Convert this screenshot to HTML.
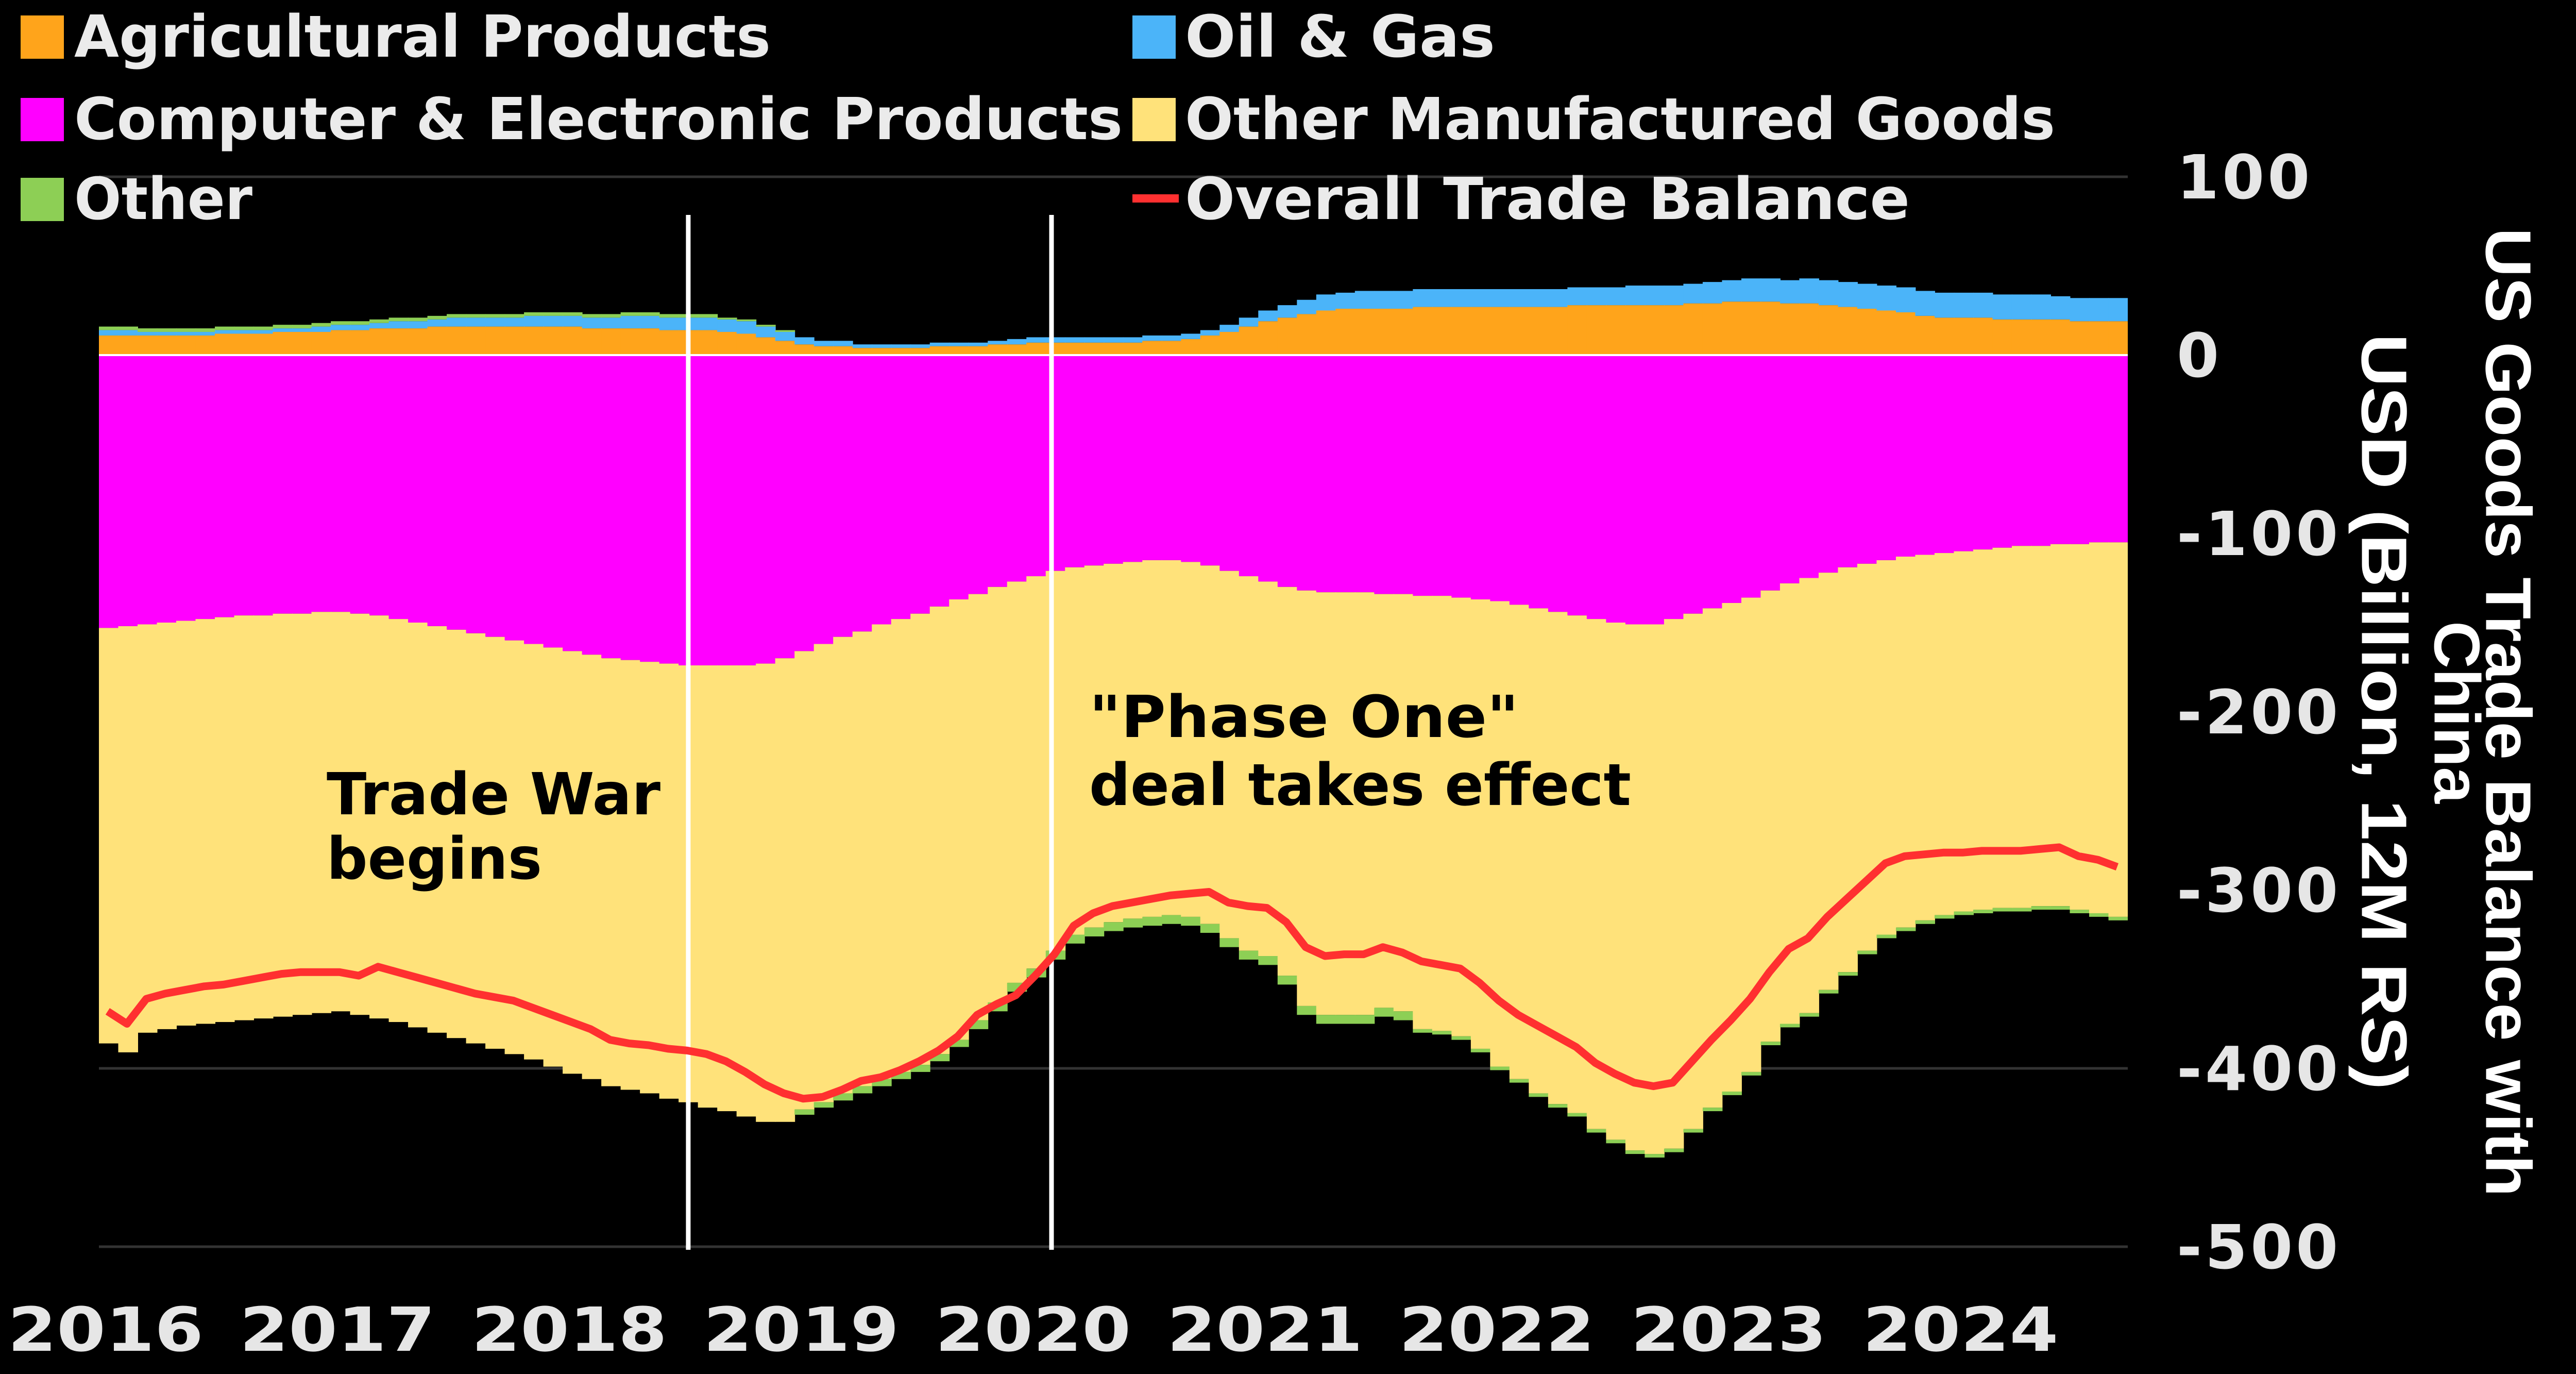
<!DOCTYPE html>
<html><head><meta charset="utf-8"><style>
html,body{margin:0;padding:0;background:#000;}
svg{display:block;}
text{font-family:"DejaVu Sans","Liberation Sans",sans-serif;font-weight:bold;}
</style></head><body>
<svg id="chart" width="5024" height="2666" viewBox="0 0 5024 2666" xmlns="http://www.w3.org/2000/svg">
<rect x="0" y="0" width="5024" height="2666" fill="#000"/>
<g id="grid"></g>
<g id="bars"></g>
<g id="overlay"></g>
<g id="axes"></g>
<g fill="#ebebeb" font-size="112">
  <rect x="40" y="30" width="84" height="84" fill="#ffa41b"/>
  <text x="144" y="110" textLength="1352" lengthAdjust="spacingAndGlyphs">Agricultural Products</text>
  <rect x="40" y="190" width="84" height="84" fill="#ff00ff"/>
  <text x="144" y="270" textLength="2035" lengthAdjust="spacingAndGlyphs">Computer &amp; Electronic Products</text>
  <rect x="40" y="345" width="84" height="84" fill="#8dcf55"/>
  <text x="144" y="425" textLength="346" lengthAdjust="spacingAndGlyphs">Other</text>
  <rect x="2198" y="30" width="84" height="84" fill="#4bb4f9"/>
  <text x="2300" y="110" textLength="602" lengthAdjust="spacingAndGlyphs">Oil &amp; Gas</text>
  <rect x="2198" y="190" width="84" height="84" fill="#ffe27a"/>
  <text x="2300" y="270" textLength="1689" lengthAdjust="spacingAndGlyphs">Other Manufactured Goods</text>
  <line x1="2198" y1="385" x2="2288" y2="385" stroke="#ff3030" stroke-width="16"/>
  <text x="2300" y="425" textLength="1407" lengthAdjust="spacingAndGlyphs">Overall Trade Balance</text>
</g>
<g fill="#000" font-size="112">
  <text x="634" y="1580" textLength="648" lengthAdjust="spacingAndGlyphs">Trade War</text>
  <text x="634" y="1705" textLength="418" lengthAdjust="spacingAndGlyphs">begins</text>
  <text x="2114" y="1430" textLength="834" lengthAdjust="spacingAndGlyphs">"Phase One"</text>
  <text x="2114" y="1562" textLength="1052" lengthAdjust="spacingAndGlyphs">deal takes effect</text>
</g>
<g fill="#fff" font-size="125">
  <text transform="translate(4868,1382) rotate(90)" text-anchor="middle" dominant-baseline="central" textLength="1880" lengthAdjust="spacingAndGlyphs" style="font-family:'Liberation Sans',sans-serif">US Goods Trade Balance with</text>
  <text transform="translate(4768,1382) rotate(90)" text-anchor="middle" dominant-baseline="central" textLength="354" lengthAdjust="spacingAndGlyphs" style="font-family:'Liberation Sans',sans-serif">China</text>
  <text transform="translate(4627,1381) rotate(90)" text-anchor="middle" dominant-baseline="central" textLength="1467" lengthAdjust="spacingAndGlyphs" style="font-family:'Liberation Sans',sans-serif">USD (Billion, 12M RS)</text>
</g>
</svg>
<script>
// ---- data (billions USD, monthly from Jan 2016) ----
const startYear = 2016;
const agri = [11,11,11,11,11,11,12,12,12,13,13,13, 14,14,15,15,15,16,16,16,16,16,16,16, 16,15,15,15,15,14,14,14,13,12,10,8, 6,5,5,4,4,4,4,5,5,5,6,6, 7,7,7,7,7,7,8,8,9,11,13,16, 19,21,23,25,26,26,26,26,27,27,27,27, 27,27,27,27,28,28,28,28,28,28,29,29, 30,30,30,29,29,28,27,26,25,24,22,21, 21,21,20,20,20,20,19,19,19];
const oilGas = [3,3,2,2,2,2,2,2,2,2,2,3, 3,3,3,4,4,4,5,5,5,5,6,6, 6,6,6,7,7,7,7,7,7,7,6,5, 4,3,3,2,2,2,2,2,2,2,2,3, 3,3,3,3,3,3,3,3,3,3,4,5, 6,7,8,9,9,10,10,10,10,10,10,10, 10,10,10,10,10,10,10,11,11,11,11,12, 12,13,13,13,14,14,14,14,14,14,14,14, 14,14,14,14,14,13,13,13,13];
const other = [2,2,2,2,2,2,2,2,2,2,2,2, 2,2,2,2,2,2,2,2,2,2,2,2, 2,2,2,2,2,2,2,2,1,1,1,1, -3,-3,-4,-4,-4,-4,-4,-4,-4,-5,-5,-5, -5,-5,-5,-5,-5,-5,-5,-5,-5,-5,-5,-5, -5,-5,-5,-5,-5,-5,-5,-5,-2,-2,-2,-2, -2,-2,-2,-2,-2,-2,-2,-2,-2,-2,-2,-2, -2,-2,-2,-2,-2,-2,-2,-2,-2,-2,-2,-2, -2,-2,-2,-2,-2,-2,-2,-2,-2];
const computer = [-153,-152,-151,-150,-149,-148,-147,-146,-146,-145,-145,-144, -144,-145,-146,-148,-150,-152,-154,-156,-158,-160,-162,-164, -166,-168,-170,-171,-172,-173,-174,-174,-174,-174,-173,-170, -166,-162,-158,-155,-151,-148,-145,-141,-137,-134,-130,-127, -124,-121,-119,-118,-117,-116,-115,-115,-116,-118,-121,-124, -127,-130,-132,-133,-133,-133,-134,-134,-135,-135,-136,-137, -138,-140,-142,-144,-146,-148,-150,-151,-151,-148,-145,-142, -139,-136,-132,-128,-125,-122,-119,-117,-115,-113,-112,-111, -110,-109,-108,-107,-107,-106,-106,-105,-105];
const otherManufactured = [-233,-239,-229,-228,-227,-227,-227,-227,-226,-226,-225,-225, -224,-225,-226,-226,-227,-228,-229,-230,-231,-232,-233,-235, -237,-238,-240,-241,-242,-244,-245,-248,-250,-253,-257,-260, -257,-257,-256,-255,-255,-254,-253,-251,-247,-239,-233,-225, -220,-213,-206,-203,-201,-200,-200,-199,-199,-201,-206,-210, -210,-218,-233,-237,-237,-237,-232,-234,-243,-244,-246,-252, -261,-266,-272,-276,-279,-286,-290,-295,-297,-297,-289,-280, -274,-266,-253,-247,-244,-234,-227,-217,-210,-208,-205,-203, -202,-202,-202,-203,-202,-203,-205,-208,-210];
const balance = [-368,-375,-361,-358,-356,-354,-353,-351,-349,-347,-346,-346, -346,-348,-343,-346,-349,-352,-355,-358,-360,-362,-366,-370, -374,-378,-384,-386,-387,-389,-390,-392,-396,-402,-409,-414, -417,-416,-412,-407,-405,-401,-396,-390,-382,-370,-364,-359, -348,-336,-320,-313,-309,-307,-305,-303,-302,-301,-307,-309, -310,-318,-332,-337,-336,-336,-332,-335,-340,-342,-344,-352, -362,-370,-376,-382,-388,-397,-403,-408,-410,-408,-396,-384, -373,-361,-346,-333,-327,-315,-305,-295,-285,-281,-280,-279, -279,-278,-278,-278,-277,-276,-281,-283,-287];
const yTicks = [100,0,-100,-200,-300,-400,-500];
const yTickLabels = ["100","0","-100","-200","-300","-400","-500"];
const xTickLabels = ["2016","2017","2018","2019","2020","2021","2022","2023","2024"];
const eventMonths = [30.5, 49.3];

// ---- scales ----
const NS = "http://www.w3.org/2000/svg";
const plotL = 192, plotR = 4130;
const nMonths = agri.length;
const step = (plotR - plotL) / nMonths;
function xAt(i){ return plotL + i * step; }
function yAt(v){ return 689 - v * 3.46; }
function mk(tag, attrs, parent){
  const e = document.createElementNS(NS, tag);
  for (const k in attrs) e.setAttribute(k, attrs[k]);
  parent.appendChild(e);
  return e;
}
const grid = document.getElementById('grid');
const bars = document.getElementById('bars');
const overlay = document.getElementById('overlay');
const axes = document.getElementById('axes');

// gridlines
yTicks.forEach((v) => {
  if (v === 0) return;
  const l = mk('line', {x1: plotL, x2: plotR, y1: yAt(v), y2: yAt(v), stroke: '#333', 'stroke-width': 5}, grid);
  
  
});

// stacked bars
function seg(i, v0, v1, color, name){
  const y0 = yAt(v0), y1 = yAt(v1);
  const w = (i === nMonths - 1) ? step : step + 1;
  const r = mk('rect', {x: xAt(i), width: w, y: Math.min(y0, y1), height: Math.abs(y1 - y0), fill: color}, bars);
  
  
}
for (let i = 0; i < nMonths; i++){
  let p = 0;
  seg(i, p, p + agri[i], '#ffa41b', 'bar-agricultural'); p += agri[i];
  seg(i, p, p + oilGas[i], '#4bb4f9', 'bar-oil-gas'); p += oilGas[i];
  if (other[i] > 0){ seg(i, p, p + other[i], '#8dcf55', 'bar-other'); }
  let n = 0;
  seg(i, n, n + computer[i], '#ff00ff', 'bar-computer'); n += computer[i];
  seg(i, n, n + otherManufactured[i], '#ffe27a', 'bar-other-manufactured'); n += otherManufactured[i];
  if (other[i] < 0){ seg(i, n, n + other[i], '#8dcf55', 'bar-other'); }
}

// zero line
const zl = mk('line', {x1: plotL, x2: plotR, y1: yAt(0), y2: yAt(0), stroke: '#fff', 'stroke-width': 4}, overlay);



// event lines
eventMonths.forEach((m) => {
  const l = mk('line', {x1: xAt(m), x2: xAt(m), y1: 417, y2: 2425, stroke: '#fff', 'stroke-width': 9}, overlay);
  
  
});

// balance line
const pts = balance.map((v, i) => (xAt(i) + step * 0.45).toFixed(1) + ',' + yAt(v).toFixed(1)).join(' ');
const pl = mk('polyline', {points: pts, fill: 'none', stroke: '#ff3030', 'stroke-width': 15, 'stroke-linejoin': 'round'}, overlay);



// y tick labels
yTicks.forEach((v, k) => {
  const t = mk('text', {x: 4225, y: yAt(v) + 42, fill: '#e6e6e6', 'font-size': 118, 'letter-spacing': 6}, axes);
  t.textContent = yTickLabels[k];
  
  
});

// x tick labels
xTickLabels.forEach((lab, k) => {
  const t = mk('text', {x: xAt(k * 12) + 13, y: 2621, fill: '#e6e6e6', 'font-size': 118, 'text-anchor': 'middle', textLength: 380, lengthAdjust: 'spacingAndGlyphs'}, axes);
  t.textContent = lab;
  
  
});
</script>
</body></html>
